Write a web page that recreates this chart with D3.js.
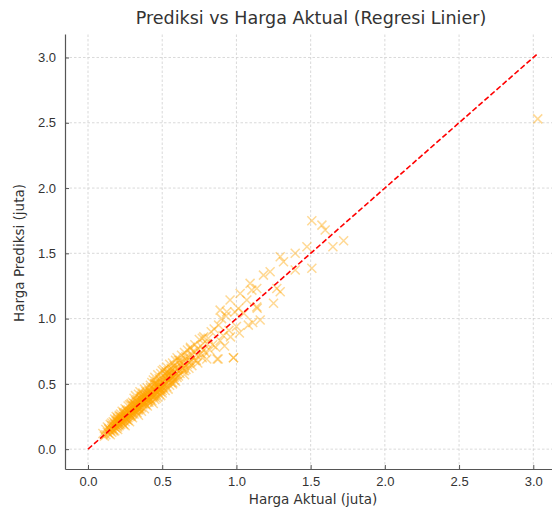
<!DOCTYPE html>
<html>
<head>
<meta charset="utf-8">
<script src="https://cdn.jsdelivr.net/npm/d3@7"></script>
<style>
  body { margin: 0; background: #fff; }
  svg { display: block; font-family: "DejaVu Sans", sans-serif; }
</style>
</head>
<body>
<svg id="chart"></svg>
<script>
const actual = [
  0.10,0.11,0.12,0.12,0.13,0.13,0.14,0.14,0.15,0.15,0.15,0.16,0.16,0.16,0.17,0.17,0.17,0.18,0.18,0.18,0.18,0.19,0.19,0.19,0.19,0.20,0.20,0.20,0.20,0.20,
  0.21,0.21,0.21,0.22,0.22,0.22,0.22,0.23,0.23,0.23,0.23,0.24,0.24,0.24,0.24,0.25,0.25,0.25,0.25,0.25,0.26,0.26,0.26,0.26,0.27,0.27,0.27,0.27,0.27,0.28,0.28,0.28,0.28,0.29,0.29,0.29,0.29,0.30,0.30,0.30,0.30,0.30,
  0.31,0.31,0.31,0.31,0.32,0.32,0.32,0.32,0.32,0.33,0.33,0.33,0.33,0.34,0.34,0.34,0.34,0.34,0.35,0.35,0.35,0.35,0.35,0.36,0.36,0.36,0.36,0.36,0.37,0.37,0.37,0.37,0.38,0.38,0.38,0.38,0.38,0.39,0.39,0.39,0.39,0.40,0.40,0.40,0.40,0.40,
  0.41,0.41,0.41,0.42,0.42,0.42,0.42,0.43,0.43,0.43,0.43,0.44,0.44,0.44,0.44,0.45,0.45,0.45,0.45,0.45,0.46,0.46,0.46,0.46,0.47,0.47,0.47,0.47,0.48,0.48,0.48,0.48,0.49,0.49,0.49,0.49,0.50,0.50,0.50,0.50,0.50,
  0.51,0.51,0.51,0.52,0.52,0.52,0.53,0.53,0.53,0.54,0.54,0.54,0.55,0.55,0.55,0.55,0.56,0.56,0.56,0.57,0.57,0.57,0.58,0.58,0.58,0.59,0.59,0.59,0.60,0.60,0.60,
  0.61,0.61,0.62,0.62,0.63,0.63,0.64,0.64,0.65,0.65,0.65,0.66,0.66,0.67,0.67,0.68,0.68,0.69,0.69,0.70,0.70,
  0.71,0.72,0.72,0.73,0.74,0.74,0.75,0.76,0.76,0.77,0.78,0.78,0.79,0.80,0.80,
  0.81,0.82,0.83,0.84,0.85,0.86,0.87,0.88,0.89,0.90,0.91,0.92,0.93,0.95,0.96,0.98,0.99,1.00,
  1.02,1.05,1.08,1.11,1.14,1.16,
  0.89,0.935,1.013,0.957,1.07,1.137,1.025,1.092,1.104,1.137,1.25,1.272,1.295,1.182,1.227,1.396,1.295,1.317,1.396,1.508,1.475,1.65,1.722,1.598,1.576,1.508,0.877,0.98,
  3.03,
  0.14,0.16,0.17,0.19,0.20,0.21,0.22,0.23,0.24,0.25,0.26,0.27,0.28,0.29,0.30,0.31,0.32,0.33,0.34,0.35,0.36,0.37,0.38,0.39,0.40,0.41,0.42,0.43,0.44,0.45,0.46,0.47,0.48,0.49,0.50,0.51,0.52,0.53,0.54,0.55,0.56,0.57,0.58,0.59,0.60,
  0.18,0.20,0.22,0.24,0.26,0.28,0.30,0.32,0.34,0.36,0.38,0.40,0.42,0.44,0.46,0.48,0.50,0.52,0.54,0.56,0.58,0.62,0.64,0.66,0.68,
  0.21,0.25,0.29,0.33,0.37,0.41,0.45,0.49,0.53,0.57,0.61,0.65,0.69,0.73,0.77
]
const predicted = [
  0.12,0.10,0.15,0.11,0.13,0.17,0.12,0.16,0.14,0.19,0.11,0.16,0.20,0.13,0.15,0.21,0.18,0.14,0.19,0.23,0.17,0.16,0.22,0.18,0.25,0.17,0.21,0.24,0.15,0.19,
  0.20,0.26,0.18,0.23,0.19,0.27,0.21,0.24,0.20,0.29,0.22,0.25,0.19,0.28,0.23,0.26,0.21,0.31,0.24,0.18,0.27,0.23,0.30,0.25,0.28,0.22,0.33,0.26,0.24,0.29,0.25,0.34,0.21,0.30,0.26,0.35,0.28,0.31,0.27,0.36,0.24,0.33,
  0.30,0.35,0.27,0.39,0.33,0.29,0.37,0.31,0.41,0.34,0.28,0.38,0.32,0.36,0.30,0.42,0.33,0.26,0.35,0.39,0.31,0.44,0.37,0.36,0.32,0.41,0.29,0.38,0.37,0.43,0.34,0.40,0.39,0.35,0.46,0.31,0.41,0.38,0.44,0.34,0.40,0.41,0.36,0.47,0.33,0.43,
  0.40,0.45,0.36,0.43,0.38,0.49,0.41,0.44,0.37,0.51,0.42,0.46,0.40,0.53,0.35,0.45,0.41,0.50,0.38,0.55,0.47,0.42,0.52,0.39,0.48,0.44,0.57,0.40,0.49,0.45,0.54,0.42,0.50,0.46,0.58,0.41,0.51,0.47,0.60,0.43,0.55,
  0.52,0.47,0.61,0.55,0.45,0.50,0.53,0.63,0.48,0.56,0.46,0.60,0.54,0.49,0.65,0.58,0.57,0.51,0.62,0.55,0.66,0.50,0.59,0.53,0.64,0.57,0.68,0.52,0.61,0.55,0.70,
  0.62,0.56,0.66,0.58,0.63,0.72,0.60,0.67,0.64,0.57,0.74,0.69,0.61,0.65,0.76,0.70,0.62,0.67,0.78,0.64,0.72,
  0.75,0.68,0.80,0.72,0.77,0.66,0.84,0.73,0.79,0.70,0.86,0.76,0.74,0.81,0.69,
  0.85,0.76,0.90,0.80,0.92,0.78,0.69,0.95,0.83,1.00,0.87,0.79,1.02,0.91,0.86,0.70,1.05,0.94,
  0.89,1.04,0.95,0.97,1.08,0.99,
  1.065,1.052,1.078,1.142,1.142,1.09,1.193,1.270,1.218,1.231,1.117,1.231,1.205,1.333,1.359,1.372,1.474,1.435,1.50,1.385,1.55,1.55,1.596,1.678,1.716,1.749,0.69,0.70,
  2.53,
  0.15,0.18,0.14,0.21,0.22,0.19,0.25,0.21,0.27,0.23,0.24,0.30,0.27,0.25,0.29,0.33,0.30,0.36,0.31,0.33,0.38,0.35,0.37,0.42,0.38,0.39,0.44,0.41,0.47,0.43,0.44,0.49,0.46,0.52,0.48,0.49,0.57,0.51,0.58,0.53,0.54,0.61,0.56,0.62,0.58,
  0.20,0.23,0.22,0.22,0.29,0.27,0.28,0.34,0.32,0.40,0.36,0.38,0.47,0.42,0.50,0.47,0.45,0.58,0.52,0.60,0.55,0.68,0.62,0.71,0.66,
  0.25,0.28,0.34,0.30,0.42,0.37,0.50,0.44,0.59,0.51,0.68,0.60,0.77,0.68,0.85
]
const xTicks = [0.0, 0.5, 1.0, 1.5, 2.0, 2.5, 3.0]
const yTicks = [0.0, 0.5, 1.0, 1.5, 2.0, 2.5, 3.0]
const idealLine = [0, 3.03]

const W = 552
const H = 508
const margin = { top: 34, right: -8, bottom: 39, left: 65 }

const svg = d3.select('#chart').attr('width', W).attr('height', H)

const x = d3.scaleLinear().domain([-0.155, 3.18]).range([margin.left, W - margin.right])
const y = d3.scaleLinear().domain([-0.152, 3.18]).range([H - margin.bottom, margin.top])

// grid
const grid = svg.append('g')
  .attr('stroke', '#cfcfcf')
  .attr('stroke-width', 0.8)
  .attr('stroke-dasharray', '2.5,2')
grid.selectAll('.gx').data(xTicks).join('line')
  .attr('x1', d => x(d)).attr('x2', d => x(d))
  .attr('y1', y.range()[0]).attr('y2', y.range()[1])
grid.selectAll('.gy').data(yTicks).join('line')
  .attr('x1', x.range()[0]).attr('x2', x.range()[1])
  .attr('y1', d => y(d)).attr('y2', d => y(d))

// scatter markers
const pts = d3.zip(actual, predicted)
const s = 4.5
svg.append('g')
  .attr('stroke', '#ffa500')
  .attr('stroke-opacity', 0.42)
  .attr('stroke-width', 1.5)
  .selectAll('path')
  .data(pts)
  .join('path')
  .attr('d', d => {
    const cx = x(d[0])
    const cy = y(d[1])
    return `M${cx - s},${cy - s}L${cx + s},${cy + s}M${cx - s},${cy + s}L${cx + s},${cy - s}`
  })

// ideal line
svg.append('line')
  .attr('x1', x(idealLine[0])).attr('y1', y(idealLine[0]))
  .attr('x2', x(idealLine[1])).attr('y2', y(idealLine[1]))
  .attr('stroke', '#ff0000')
  .attr('stroke-width', 1.6)
  .attr('stroke-dasharray', '5.5,2.5')

// axes
const xAxis = d3.axisBottom(x).tickValues(xTicks).tickFormat(d3.format('.1f')).tickSizeInner(-4).tickSizeOuter(0).tickPadding(8)
const yAxis = d3.axisLeft(y).tickValues(yTicks).tickFormat(d3.format('.1f')).tickSizeInner(-4).tickSizeOuter(0).tickPadding(9)

const gx = svg.append('g')
  .attr('transform', `translate(0, ${H - margin.bottom})`)
  .call(xAxis)
const gy = svg.append('g')
  .attr('transform', `translate(${margin.left}, 0)`)
  .call(yAxis)

for (const g of [gx, gy]) {
  g.select('.domain').attr('stroke', '#555').attr('stroke-width', 1.2)
  g.selectAll('.tick line').attr('stroke', '#555')
  g.selectAll('.tick text').attr('fill', '#333').attr('font-size', 13)
}

// labels
svg.append('text')
  .attr('x', 311).attr('y', 24)
  .attr('text-anchor', 'middle')
  .attr('font-size', 17.5)
  .attr('fill', '#333')
  .text('Prediksi vs Harga Aktual (Regresi Linier)')

svg.append('text')
  .attr('x', 313).attr('y', 504)
  .attr('text-anchor', 'middle')
  .attr('font-size', 13.5)
  .attr('fill', '#333')
  .text('Harga Aktual (juta)')

svg.append('text')
  .attr('transform', 'translate(24, 253) rotate(-90)')
  .attr('text-anchor', 'middle')
  .attr('font-size', 13.5)
  .attr('fill', '#333')
  .text('Harga Prediksi (juta)')
</script>
</body>
</html>
